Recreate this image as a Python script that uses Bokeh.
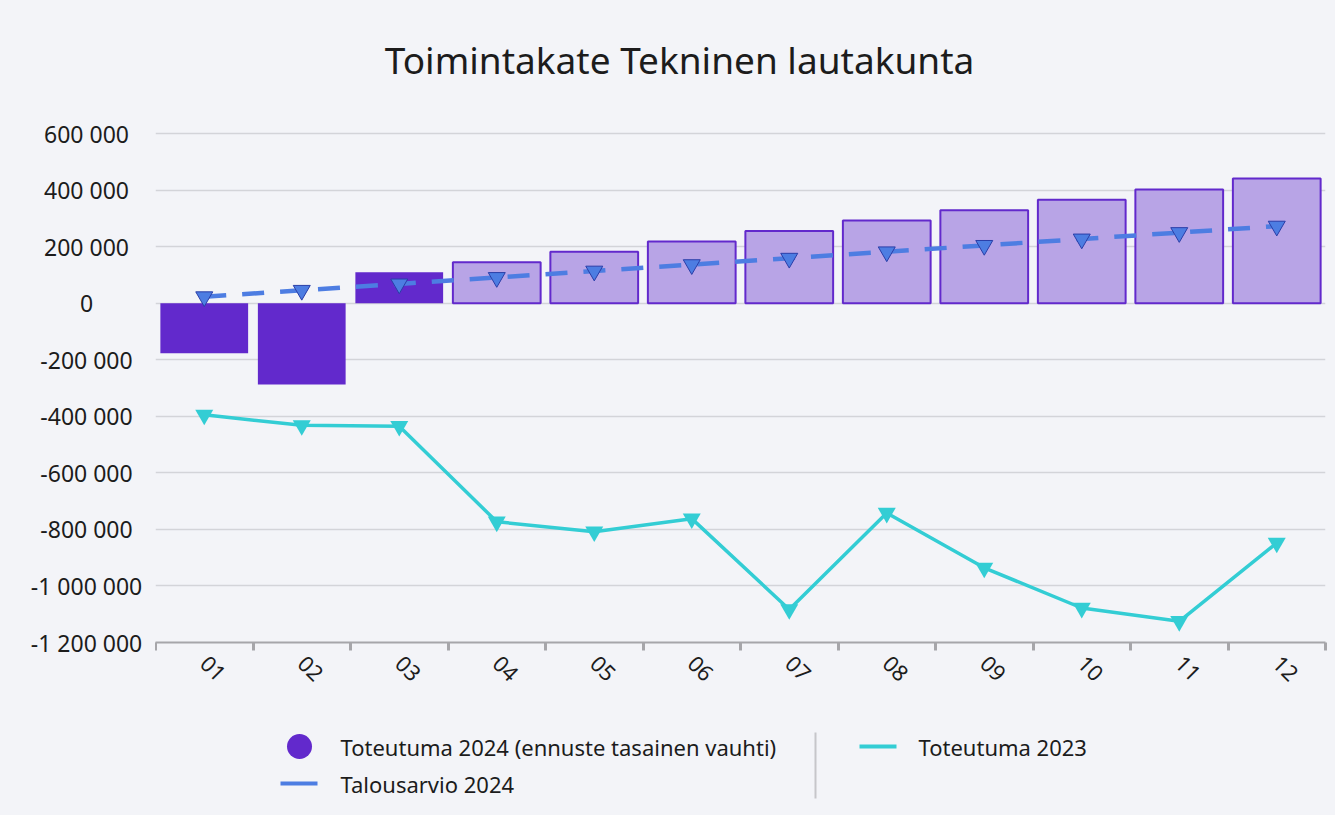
import math
from bokeh.plotting import figure
from bokeh.layouts import column, row
from bokeh.models import Range1d, FixedTicker, Grid
from bokeh.core.properties import value
from bokeh.embed import file_html
from bokeh.resources import INLINE

# ---------------- data ----------------
month_labels = ["01", "02", "03", "04", "05", "06", "07", "08", "09", "10", "11", "12"]
months = list(range(1, 13))
toteutuma_2024 = [-177000, -288000, 109000, 145000, 182000, 218000, 255000, 292000, 329000, 366000, 402000, 441000]
actual_months = 3  # first 3 months are realised, the rest is forecast
talousarvio_2024 = [22700, 45400, 68100, 90800, 113500, 136200, 158900, 181600, 204300, 227000, 249700, 272400]
toteutuma_2023 = [-395000, -432000, -435000, -773000, -808000, -762000, -1083000, -742000, -936000, -1078000, -1125000, -848000]
y_ticks = [600000, 400000, 200000, 0, -200000, -400000, -600000, -800000, -1000000, -1200000]
y_tick_labels = ["600 000", "400 000", "200 000", "0", "-200 000", "-400 000", "-600 000",
                 "-800 000", "-1 000 000", "-1 200 000"]
title_text = "Toimintakate Tekninen lautakunta"
legend_labels = ["Toteutuma 2024 (ennuste tasainen vauhti)", "Talousarvio 2024", "Toteutuma 2023"]

# ---------------- style ----------------
BG = "#f3f4f8"
PURPLE = "#6229cc"
PURPLE_LIGHT = "#b8a4e6"
BLUE = "#4d7de2"
BLUE_DARK = "#2a3ea8"
CYAN = "#33cdd4"
FONT = "Noto Sans"
TXT = "#1c1c1c"

TOTAL_W = 1335
YLAB_W = 155
MAIN_W = TOTAL_W - YLAB_W
TITLE_H = 110
MAIN_H = 598
RIGHT_B = 10
TOP_B = 20
TOP_PAD = 3
BOT_B = 66
LEG_H = 107
Y_MIN, Y_MAX = -1200000, 600000

frame_h = MAIN_H - TOP_B - BOT_B
k = (Y_MAX - Y_MIN) / (frame_h - TOP_PAD)
Y_TOP = Y_MAX + TOP_PAD * k


def blank(width, height, x_range, y_range):
    f = figure(width=width, height=height, output_backend="svg", toolbar_location=None,
               x_range=x_range, y_range=y_range, x_axis_location=None, y_axis_location=None,
               min_border_left=0, min_border_right=0, min_border_top=0, min_border_bottom=0)
    f.background_fill_color = BG
    f.border_fill_color = BG
    f.outline_line_color = None
    f.grid.visible = False
    return f


# ---------------- title ----------------
tf = blank(TOTAL_W, TITLE_H, Range1d(0, TOTAL_W), Range1d(TITLE_H, 0))
tf.text(x=[679], y=[59], text=[title_text], text_align="center", text_baseline="middle",
        text_font=value(FONT), text_font_size="37px", text_color=TXT)

# ---------------- main plot ----------------
p = figure(width=MAIN_W, height=MAIN_H, output_backend="svg", toolbar_location=None,
           x_range=Range1d(0.5, 12.5), y_range=Range1d(Y_MIN, Y_TOP),
           y_axis_location=None, min_border_left=0, min_border_right=RIGHT_B,
           min_border_top=TOP_B, min_border_bottom=BOT_B)
p.background_fill_color = BG
p.border_fill_color = BG
p.outline_line_color = None
for g in p.grid:
    g.visible = False

grid = Grid(dimension=1, ticker=FixedTicker(ticks=y_ticks), grid_line_color="#d3d4d9",
            grid_line_width=1.5)
p.add_layout(grid)

ax = p.xaxis[0]
ax.ticker = FixedTicker(ticks=months, minor_ticks=[m - 0.5 for m in months] + [12.5])
ax.major_label_overrides = {m: lab for m, lab in zip(months, month_labels)}
ax.major_tick_out = 0
ax.major_tick_in = 0
ax.minor_tick_out = 8
ax.minor_tick_in = 0
ax.minor_tick_line_width = 3
ax.minor_tick_line_color = "#a6a6aa"
ax.axis_line_color = "#a6a6aa"
ax.axis_line_width = 2
ax.major_label_orientation = -math.pi / 4
ax.major_label_text_font = FONT
ax.major_label_text_font_size = "22px"
ax.major_label_text_color = TXT
ax.major_label_standoff = 9

# bars
p.vbar(x=months[:actual_months], top=toteutuma_2024[:actual_months], bottom=0, width=0.9,
       fill_color=PURPLE, line_color=None)
p.vbar(x=months[actual_months:], top=toteutuma_2024[actual_months:], bottom=0, width=0.9,
       fill_color=PURPLE_LIGHT, line_color=PURPLE, line_width=2)

# 2023 line
p.line(months, toteutuma_2023, line_color=CYAN, line_width=3.5)
p.scatter(months, toteutuma_2023, marker="inverted_triangle", size=18,
          fill_color=CYAN, line_color=None)

# budget dashed line
p.line(months, talousarvio_2024, line_color=BLUE, line_width=4.5, line_dash="22 16")
p.scatter(months, talousarvio_2024, marker="inverted_triangle", size=17,
          fill_color=BLUE, line_color=BLUE_DARK, line_width=1)

# ---------------- y tick labels (centred column left of the plot) ----------------
yl = blank(YLAB_W, MAIN_H, Range1d(0, YLAB_W), Range1d(Y_MIN - BOT_B * k, Y_TOP + TOP_B * k))
yl.text(x=[86] * len(y_ticks), y=y_ticks, text=y_tick_labels, text_align="center",
        text_baseline="middle", text_font=value(FONT), text_font_size="23px", text_color=TXT)

# ---------------- legend ----------------
lg = blank(TOTAL_W, LEG_H, Range1d(0, TOTAL_W), Range1d(LEG_H, 0))
lg.scatter([299], [38], marker="circle", size=25, fill_color=PURPLE, line_color=None)
lg.line([280, 317], [75, 75], line_color=BLUE, line_width=4)
lg.line([859, 896], [38, 38], line_color=CYAN, line_width=4)
lg.line([815, 815], [24, 90], line_color="#c6c6ca", line_width=2)
lg.text(x=[340, 340, 918], y=[38, 75, 38], text=legend_labels, text_align="left",
        text_baseline="middle", text_font=value(FONT), text_font_size="22px", text_color=TXT)

layout = column(tf, row(column(yl), p, spacing=0), lg, spacing=0)
layout.styles = {"background-color": BG}

open("out.html", "w").write(file_html(layout, INLINE))
